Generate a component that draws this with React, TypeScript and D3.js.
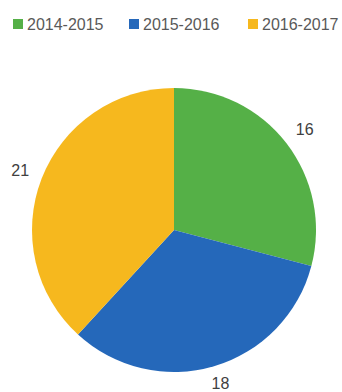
import React from "react";
import * as d3 from "d3";

const categories = ["2014-2015", "2015-2016", "2016-2017"];
const values = [16, 18, 21];
const colors = ["#55B047", "#2568BA", "#F6B81E"];

export default function App() {
  const width = 342;
  const height = 392;
  const cx = 174;
  const cy = 230;
  const r = 142;
  const pie = d3.pie<number>().sort(null).value((d) => d)(values);
  const arc = d3.arc<d3.PieArcDatum<number>>().innerRadius(0).outerRadius(r);
  const labelArc = d3.arc<d3.PieArcDatum<number>>().innerRadius(165).outerRadius(165);

  const legendX = [13, 129, 248];
  return (
    <svg
      width={width}
      height={height}
      style={{ position: "absolute", left: 0, top: 0, background: "#fff" }}
      fontFamily="'Liberation Sans', Arial, sans-serif"
    >
      {categories.map((c, i) => (
        <g key={c} transform={`translate(${legendX[i]},0)`}>
          <rect x={0} y={19} width={10} height={10} fill={colors[i]} />
          <text x={14} y={30} fontSize={16} fill="#595959">
            {c}
          </text>
        </g>
      ))}
      <g transform={`translate(${cx},${cy})`}>
        {pie.map((p, i) => (
          <path key={i} d={arc(p) || ""} fill={colors[i]} />
        ))}
        {pie.map((p, i) => {
          const [x, y] = labelArc.centroid(p);
          const yy = Math.min(y, height - cy - 9);
          return (
            <text
              key={"l" + i}
              x={x}
              y={yy}
              fontSize={16}
              fill="#404040"
              textAnchor="middle"
              dominantBaseline="central"
            >
              {values[i]}
            </text>
          );
        })}
      </g>
    </svg>
  );
}
